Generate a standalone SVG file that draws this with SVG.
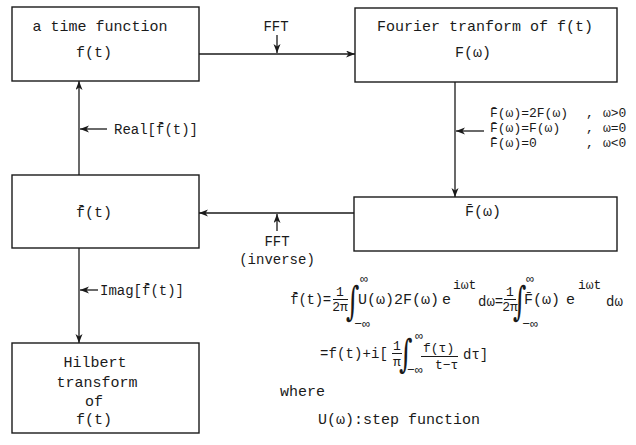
<svg xmlns="http://www.w3.org/2000/svg" width="636" height="445" viewBox="0 0 636 445">
<defs>
<marker id="ah" markerUnits="userSpaceOnUse" markerWidth="10" markerHeight="8" refX="9" refY="3.5" orient="auto">
<path d="M0,0 L9,3.5 L0,7 L2.5,3.5 Z" fill="#1a1a1a"/>
</marker>
<style>
rect{fill:#fff;stroke:#1a1a1a;stroke-width:1.4}
line,.c{stroke:#1a1a1a;stroke-width:1.3;fill:none}
.a{marker-end:url(#ah)}
text{font-family:"Liberation Mono","DejaVu Sans Mono",monospace;fill:#1a1a1a;font-size:15px}
.m{text-anchor:middle}
.s{font-size:13px}
.i{font-family:"DejaVu Serif","Liberation Serif",serif;font-size:26px}
</style>
</defs>
<rect width="636" height="445" fill="#fff" style="stroke:none"/>

<g id="n1">
<rect x="12" y="7" width="187" height="74"/>
<text class="m" x="100" y="31">a time function</text>
<text class="m" x="94" y="57">f(t)</text>
</g>
<g id="n2">
<rect x="355" y="8" width="262" height="74"/>
<text class="m" x="485" y="31">Fourier tranform of f(t)</text>
<text class="m" x="473" y="57">F(ω)</text>
</g>
<g id="n3">
<rect x="354" y="197" width="263" height="54"/>
<text class="m" x="483" y="216">F̄(ω)</text>
</g>
<g id="n4">
<rect x="12" y="175" width="187" height="73"/>
<text class="m" x="94" y="217">f̄(t)</text>
</g>
<g id="n5">
<rect x="12" y="343" width="187" height="90"/>
<text class="m" x="95" y="367">Hilbert</text>
<text class="m" x="97" y="387">transform</text>
<text class="m" x="94" y="406">of</text>
<text class="m" x="94" y="424">f(t)</text>
</g>

<g id="connectors">
<line class="a" x1="199" y1="54" x2="355" y2="54"/>
<line class="a" x1="277" y1="35" x2="277" y2="53"/>
<line class="a" x1="455" y1="82" x2="455" y2="197"/>
<line class="a" x1="484" y1="131" x2="456" y2="131"/>
<line class="a" x1="354" y1="213" x2="199" y2="213"/>
<line class="a" x1="277" y1="231" x2="277" y2="214"/>
<line class="a" x1="79" y1="175" x2="79" y2="81"/>
<line class="a" x1="107" y1="129" x2="80" y2="129"/>
<line class="a" x1="79" y1="248" x2="79" y2="343"/>
<line class="a" x1="98" y1="290" x2="80" y2="290"/>
</g>

<g id="labels">
<text class="m" x="276" y="31" style="font-size:14px">FFT</text>
<text class="m" x="277" y="246" style="font-size:14px">FFT</text>
<text class="m" x="277" y="264" style="font-size:14px">(inverse)</text>
<text x="114" y="134" style="font-size:14px">Real[f̄(t)]</text>
<text x="100" y="295" style="font-size:14px">Imag[f̄(t)]</text>
<text x="490" y="117" class="s">F̄(ω)=2F(ω)</text>
<text x="490" y="132" class="s">F̄(ω)=F(ω)</text>
<text x="490" y="147" class="s">F̄(ω)=0</text>
<text x="586" y="117" class="s">,</text>
<text x="586" y="132" class="s">,</text>
<text x="586" y="147" class="s">,</text>
<text x="603" y="117" class="s">ω&gt;0</text>
<text x="603" y="132" class="s">ω=0</text>
<text x="603" y="147" class="s">ω&lt;0</text>
</g>

<g id="formula">
<text x="290" y="304" style="font-size:14px" textLength="41">f̄(t)=</text>
<text class="m s" x="340" y="296">1</text>
<line x1="333" y1="299.5" x2="348" y2="299.5" style="stroke-width:1"/>
<text class="m s" x="340" y="311">2π</text>
<text class="i" transform="translate(346,315) scale(1,1.55)">∫</text>
<text class="m s" x="364" y="283">∞</text>
<text class="m s" x="362" y="328">−∞</text>
<text x="358" y="304">U(ω)2F(ω)</text>
<text x="442" y="304">e</text>
<text x="453" y="289" class="s">iωt</text>
<text x="478" y="306" style="font-size:14px">dω=</text>
<text class="m s" x="510" y="296">1</text>
<line x1="504" y1="299.5" x2="516" y2="299.5" style="stroke-width:1"/>
<text class="m s" x="510" y="311">2π</text>
<text class="i" transform="translate(513,315) scale(1,1.55)">∫</text>
<text class="m s" x="530" y="283">∞</text>
<text class="m s" x="530" y="328">−∞</text>
<text x="524" y="304">F̄(ω)</text>
<text x="566" y="304">e</text>
<text x="578" y="289" class="s">iωt</text>
<text x="606" y="306" style="font-size:14px">dω</text>

<text x="320" y="358" style="font-size:14px" textLength="68">=f(t)+i[</text>
<text class="m s" x="397" y="350">1</text>
<line x1="392" y1="353.5" x2="402" y2="353.5" style="stroke-width:1"/>
<text class="m s" x="397" y="366">π</text>
<text class="i" transform="translate(399,367) scale(1,1.5)">∫</text>
<text class="m s" x="419" y="340">∞</text>
<text x="423" y="352" class="s">f(τ)</text>
<line x1="421" y1="356.5" x2="458" y2="356.5" style="stroke-width:1"/>
<text x="407" y="374" class="s">−∞</text>
<text x="435" y="369" class="s">t−τ</text>
<text x="463" y="359" style="font-size:14px">dτ]</text>

<text x="280" y="396">where</text>
<text x="318" y="424">U(ω):step function</text>
</g>
</svg>
